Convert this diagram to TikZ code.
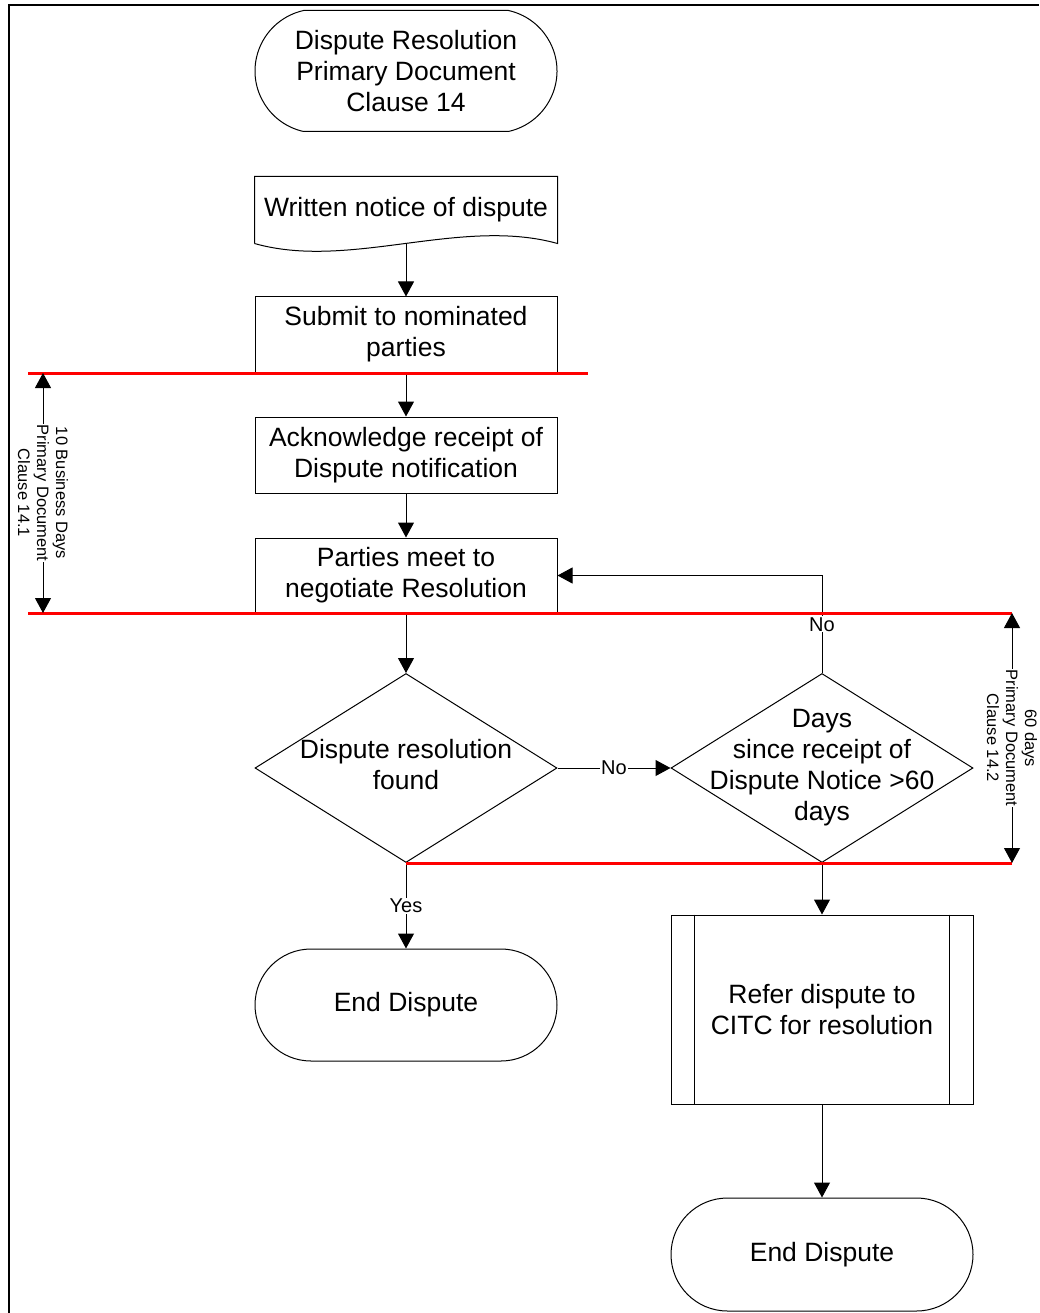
\documentclass[tikz,border=0pt]{standalone}
\usepackage{fontspec}
\setmainfont{Liberation Sans}
\usetikzlibrary{arrows.meta,shapes.geometric,shapes.misc}
\newcommand{\diamtext}[1]{\makebox[0pt]{\begin{tabular}{@{}c@{}}#1\end{tabular}}}
\begin{document}
\begin{tikzpicture}[x=1pt,y=1pt,yscale=-1,
		every node/.style={font=\fontsize{26.5}{31}\selectfont},
		stepbox/.style={draw, line width=1pt, minimum width=302pt, inner sep=0pt, align=center},
		terminal/.style={stepbox, rounded rectangle},
		decision/.style={stepbox, diamond, minimum height=189pt},
		flow/.style={line width=1pt, -{Triangle[length=15pt,width=16pt]}},
		lbl/.style={fill=white, inner sep=1pt, font=\fontsize{20}{24}\selectfont},
		limit/.style={red, line width=3pt},
		dim/.style={line width=1pt, {Triangle[length=15pt,width=16pt]}-{Triangle[length=15pt,width=16pt]}},
		dimtext/.style={fill=white, inner sep=1pt, align=center, rotate=-90, font=\fontsize{16.5}{19}\selectfont}]
	\useasboundingbox (0,0) rectangle (1039,1313);
	%Frame
	\draw [line width=2pt] (9,1313) -- (9,5.5) -- (1039,5.5);
	
	%Terminals and steps
	\node [terminal, minimum height=121pt, rounded rectangle arc length=155] (start) at (406,71) {Dispute Resolution\\Primary Document\\Clause 14};
	\node [stepbox, draw=none, minimum height=66pt] (notice) at (406,210) {Written notice of dispute};
	\draw [line width=1pt] (notice.south west) -- (notice.north west) -- (notice.north east) -- (notice.south east) .. controls +(-97,-27) and +(95,27) .. (notice.south west);
	\node [stepbox, minimum height=75pt] (submit) at (406,334.5) {Submit to nominated\\parties};
	\node [stepbox, minimum height=76pt] (ack) at (406,455) {Acknowledge receipt of\\Dispute notification};
	\node [stepbox, minimum height=75pt] (meet) at (406,575.5) {Parties meet to\\negotiate Resolution};
	\node [decision] (found) at (406,768) {\diamtext{Dispute resolution\\found}};
	\node [decision] (days) at (822,768) {\diamtext{Days\\since receipt of\\Dispute Notice >60\\days}};
	\node [terminal, minimum height=112pt] (end1) at (406,1005) {End Dispute};
	\node [stepbox, minimum height=189pt] (citc) at (822,1009.5) {Refer dispute to\\CITC for resolution};
	\draw [line width=1pt] ([xshift=24pt]citc.north west) -- ([xshift=24pt]citc.south west);
	\draw [line width=1pt] ([xshift=-24pt]citc.north east) -- ([xshift=-24pt]citc.south east);
	\node [terminal, minimum height=113pt] (end2) at (822,1254.5) {End Dispute};
	
	%Connectors
	\draw [flow] (notice.south) -- (submit.north);
	\draw [flow] (submit.south) -- (ack.north);
	\draw [flow] (ack.south) -- (meet.north);
	\draw [flow] (meet.south) -- (found.north);
	\draw [flow] (found.east) -- node [lbl] (no1) {No} (days.west);
	\draw [flow] (days.north) |- node [lbl, pos=0.25] (no2) {No} (meet.east);
	\draw [flow] (found.south) -- node [lbl] (yes) {Yes} (end1.north);
	\draw [flow] (days.south) -- (citc.north);
	\draw [flow] (citc.south) -- (end2.north);
	
	%Time limits
	\coordinate (lim1w) at (28,373);
	\coordinate (lim1e) at (588,373);
	\coordinate (lim2w) at (28,613);
	\coordinate (lim2e) at (1012,613);
	\coordinate (lim3e) at (1012,863);
	\draw [limit] (lim1w) -- (lim1e);
	\draw [limit] (lim2w) -- (lim2e);
	\draw [limit] (found.south |- lim3e) -- (lim3e);
	\draw [dim] (43,373) -- node [dimtext] (bizdays) {10 Business Days\\Primary Document\\Clause 14.1} (43,613);
	\draw [dim] (lim2e) -- node [dimtext] (sixty) {60 days\\Primary Document\\Clause 14.2} (lim3e);
\end{tikzpicture}
\end{document}
